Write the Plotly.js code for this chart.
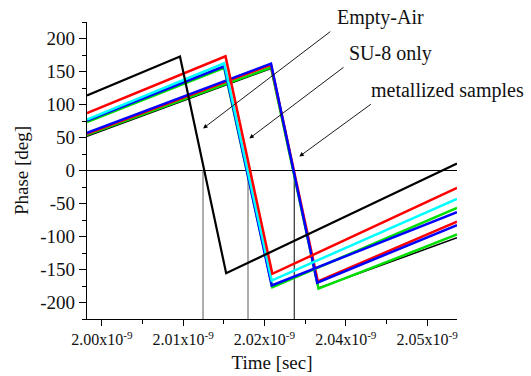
<!DOCTYPE html>
<html>
<head>
<meta charset="utf-8">
<script src="https://cdn.plot.ly/plotly-3.0.1.min.js"></script>
<style>html,body{margin:0;padding:0;background:#fff;}#chart{width:531px;height:376px;}</style>
</head>
<body>
<div id="chart"></div>
<script>
// ---- data (time in seconds, phase in degrees) ----
const timeEmptyAir = [1.9977e-9, 2.0120e-9, 2.0191e-9, 2.0546e-9];
const phaseEmptyAir = [113.6, 172.7, -155.6, 10.6];

const timeSU8Red = [1.9977e-9, 2.0190e-9, 2.0262e-9, 2.0546e-9];
const phaseSU8Red = [86.8, 173.0, -156.5, -26.5];
const timeSU8Cyan = [1.9977e-9, 2.0188e-9, 2.0261e-9, 2.0546e-9];
const phaseSU8Cyan = [77.3, 162.5, -166.7, -43.0];
const timeSU8Blue = [1.9977e-9, 2.0188e-9, 2.0261e-9, 2.0546e-9];
const phaseSU8Blue = [75.5, 158.0, -174.2, -63.1];
const timeSU8Green = [1.9977e-9, 2.0188e-9, 2.0262e-9, 2.0546e-9];
const phaseSU8Green = [73.2, 155.5, -176.8, -56.6];

const timeMetRed = [1.9977e-9, 2.0260e-9, 2.0332e-9, 2.0546e-9];
const phaseMetRed = [55.5, 160.0, -168.0, -77.5];
const timeMetBlue = [1.9977e-9, 2.0260e-9, 2.0331e-9, 2.0546e-9];
const phaseMetBlue = [57.0, 162.0, -170.0, -82.8];
const timeMetGreen = [1.9977e-9, 2.0260e-9, 2.0333e-9, 2.0546e-9];
const phaseMetGreen = [54.0, 156.0, -179.0, -97.0];
const timeMetBlack = [1.9977e-9, 2.0260e-9, 2.0333e-9, 2.0546e-9];
const phaseMetBlack = [52.0, 154.5, -178.0, -102.0];

// zero-crossing marker lines
const crossingTimes = [2.01554e-9, 2.02246e-9, 2.02958e-9];
const crossingColors = ['#808080', '#808080', '#404040'];

// axis ticks
const xTickVals = [2.0e-9, 2.0125e-9, 2.025e-9, 2.0375e-9, 2.05e-9];
const xTickText = ['2.00x10<sup>-9</sup>', '2.01x10<sup>-9</sup>', '2.02x10<sup>-9</sup>', '2.04x10<sup>-9</sup>', '2.05x10<sup>-9</sup>'];
const yTickVals = [-200, -150, -100, -50, 0, 50, 100, 150, 200];
const yTickText = ['-200', '-150', '-100', '-50', '0', '50', '100', '150', '200'];

const labels = ['Empty-Air', 'SU-8 only', 'metallized samples'];

// ---- traces ----
const traces = [];
crossingTimes.forEach((t, i) => {
  traces.push({x: [t, t], y: [0, -240], mode: 'lines', line: {color: crossingColors[i], width: 1.3}, hoverinfo: 'skip'});
});
function addLine(x, y, color, width) {
  traces.push({x: x, y: y, mode: 'lines', line: {color: color, width: width}});
}
addLine(timeMetBlack, phaseMetBlack, '#000000', 1.5);
addLine(timeMetGreen, phaseMetGreen, '#00e000', 2.5);
addLine(timeMetRed, phaseMetRed, '#ff0000', 2.5);
addLine(timeMetBlue, phaseMetBlue, '#0000ff', 2.5);
addLine(timeSU8Green, phaseSU8Green, '#00e000', 2.5);
addLine(timeSU8Blue, phaseSU8Blue, '#0000ff', 2.5);
addLine(timeSU8Cyan, phaseSU8Cyan, '#00ffff', 2.5);
addLine(timeSU8Red, phaseSU8Red, '#ff0000', 2.5);
addLine(timeEmptyAir, phaseEmptyAir, '#000000', 2.2);

const font = 'Liberation Serif, DejaVu Serif, serif';

const arrows = [
  {tip: [2.01554e-9, 63.6], tail: [2.03534e-9, 212.1]},
  {tip: [2.02266e-9, 48.5], tail: [2.03738e-9, 158.0]},
  {tip: [2.03035e-9, 21.2], tail: [2.04158e-9, 102.0]}
];
// label centres in paper coordinates
const labelPos = [[0.792, 1.0135], [0.8203, 0.8956], [0.973, 0.771]];

const annotations = [];
arrows.forEach(a => {
  annotations.push({x: a.tip[0], y: a.tip[1], ax: a.tail[0], ay: a.tail[1], xref: 'x', yref: 'y', axref: 'x', ayref: 'y',
    text: '', showarrow: true, arrowhead: 2, arrowsize: 1, arrowwidth: 0.9, arrowcolor: '#000'});
});
labels.forEach((t, i) => {
  annotations.push({x: labelPos[i][0], y: labelPos[i][1], xref: 'paper', yref: 'paper', text: t, showarrow: false,
    xanchor: 'center', yanchor: 'middle', font: {family: font, size: 20, color: '#111'}});
});

const layout = {
  width: 531, height: 376,
  margin: {l: 87, r: 74, t: 22, b: 57, pad: 0},
  paper_bgcolor: '#fff', plot_bgcolor: '#fff',
  showlegend: false,
  font: {family: font, size: 17, color: '#111'},
  xaxis: {
    range: [1.9977e-9, 2.0546e-9],
    tickmode: 'array', tickvals: xTickVals, ticktext: xTickText,
    ticks: 'outside', ticklen: 6, tickwidth: 1, tickcolor: '#000',
    showline: true, linecolor: '#000', linewidth: 1.2,
    showgrid: false, zeroline: false,
    tickfont: {family: font, size: 16, color: '#111'},
    minor: {tickmode: 'array', tickvals: [2.00625e-9, 2.01875e-9, 2.03125e-9, 2.04375e-9], ticks: 'outside', ticklen: 4, tickcolor: '#000', showgrid: false},
    title: {text: 'Time [sec]', font: {family: font, size: 19, color: '#111'}, standoff: 8}
  },
  yaxis: {
    range: [-225, 225],
    tickmode: 'array', tickvals: yTickVals, ticktext: yTickText,
    ticks: 'outside', ticklen: 7, tickwidth: 1, tickcolor: '#000',
    showline: true, linecolor: '#000', linewidth: 1.2,
    showgrid: false, zeroline: true, zerolinecolor: '#000', zerolinewidth: 1,
    tickfont: {family: font, size: 19, color: '#111'},
    minor: {tick0: 0, dtick: 25, ticks: 'outside', ticklen: 4, tickcolor: '#000', showgrid: false},
    title: {text: 'Phase [deg]', font: {family: font, size: 19, color: '#111'}, standoff: 6}
  },
  annotations: annotations
};

Plotly.newPlot('chart', traces, layout, {displayModeBar: false, staticPlot: true});
</script>
</body>
</html>
